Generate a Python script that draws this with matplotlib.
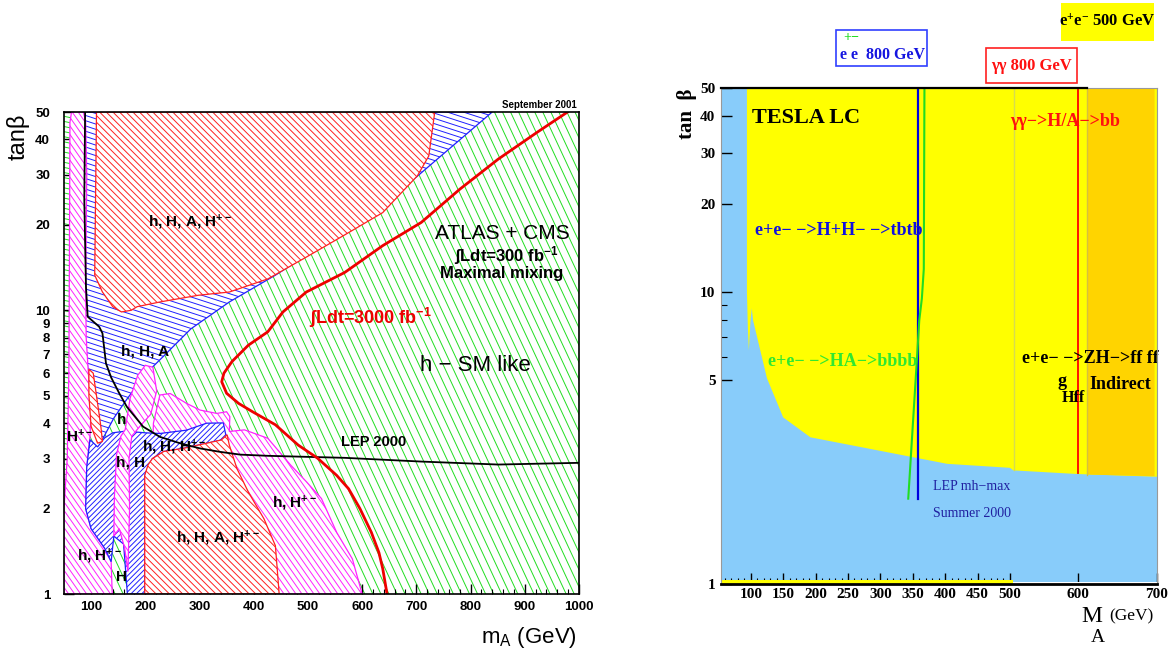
import numpy as np
import matplotlib
matplotlib.use("Agg")
import matplotlib.pyplot as plt
from matplotlib.patches import Polygon, Rectangle
from matplotlib.collections import LineCollection

plt.rcParams['font.family'] = ['Liberation Sans', 'DejaVu Sans']
plt.rcParams['mathtext.default'] = 'regular'
SERIF = ['Liberation Serif', 'DejaVu Serif']

# ---------------- left: ATLAS + CMS, (m_A [GeV], tan beta) ----------------
green_strip = [(50, 1), (50, 50), (62, 50), (62, 1)]
blue_top = [(85, 50), (840, 50), (701, 29.6), (638, 23.7), (567, 19.4), (497, 15.6),
            (440, 13.3), (355, 10.7), (284, 8.6), (234, 6.9), (199, 5.93), (163, 4.77),
            (142, 4.17), (119, 3.45), (105, 4.5), (95, 6), (88, 8), (85, 12)]
red_top = [(110, 50), (106.7, 13.3), (121, 11.6), (140, 10.3), (156, 9.87), (174, 10),
           (185, 10.3), (227, 10.7), (298, 11.3), (355, 11.6), (426, 12.9), (497, 15.4),
           (567, 18.4), (638, 22.1), (702, 29.8), (723, 35), (734, 50)]
magenta_left = [(61, 46), (64, 50), (86, 50), (90, 46), (92, 30), (90, 12), (91, 8),
                (95, 6), (100, 4.5), (98, 3.6), (92, 2.8), (90, 2.0), (100, 1.7),
                (125, 1.45), (137, 1.3), (139, 1), (50, 1), (50, 2), (56, 3), (59, 6),
                (60, 15)]
magenta_right = [(300, 1), (213, 3.0), (215, 4.0), (227, 5.03), (246, 5.09), (276, 4.7),
                 (301, 4.45), (332, 4.33), (350, 4.39), (356, 4.22), (355, 3.74),
                 (383, 3.79), (426, 3.54), (468, 2.85), (497, 2.49), (525, 2.17),
                 (553, 1.65), (582, 1.33), (600, 1.0)]
blue_low = [(98, 3.5), (112, 3.3), (125, 3.55), (140, 3.7), (163, 3.75), (200, 3.7),
            (227, 3.68), (276, 3.78), (313, 4.0), (344, 4.01), (349, 3.6), (340, 3.49),
            (298, 3.35), (270, 3.26), (234, 3.18), (213, 3.0), (199, 2.62), (199, 1.0),
            (167, 1.0), (160, 1.5), (142, 1.6), (137, 1.3), (125, 1.45), (100, 1.7),
            (90, 2.0), (92, 2.8)]
magenta_mid = [(142, 1.6), (152, 1.7), (162, 1.45), (168, 1.2), (171, 2.0), (170, 3.0),
               (175, 3.6), (190, 3.9), (210, 4.3), (221, 5.2), (214, 6.3), (200, 6.4),
               (186, 5.9), (172, 4.9), (163, 3.8), (155, 3.6), (147, 3.1), (143, 2.2)]
red_low = [(199, 1.0), (199, 2.62), (205, 2.85), (213, 3.0), (234, 3.18), (270, 3.26),
           (298, 3.35), (340, 3.49), (351, 3.64), (355, 3.35), (369, 2.77), (390, 2.29),
           (419, 1.84), (440, 1.48), (447, 1.0)]
red_strip = [(96, 6.2), (104, 6.0), (110, 5.0), (118, 3.9), (121, 3.45), (112, 3.4),
             (100, 3.9), (96, 5.0)]

lep_ma = [89, 87.5, 90.6, 93.7, 115, 121, 127.5, 137, 152, 166, 196, 227, 264, 301,
          338, 375, 426, 568, 709, 851, 1000]
lep_tb = [50, 24.5, 12.1, 9.5, 8.75, 8.3, 6.5, 5.8, 5.1, 4.57, 3.89, 3.58, 3.40, 3.26,
          3.17, 3.10, 3.07, 3.02, 2.93, 2.86, 2.90]
lum3000_ma = [979, 922, 851, 780, 709, 638, 568, 497, 454, 426, 390, 360, 345, 341, 350,
              372, 397, 440, 482, 518, 553, 575, 596, 617, 631, 638, 646]
lum3000_tb = [50, 42.3, 34.1, 26.7, 20.4, 16.9, 13.6, 11.6, 9.87, 8.4, 7.53, 6.6, 6.0,
              5.6, 5.1, 4.7, 4.4, 3.95, 3.35, 3.01, 2.62, 2.35, 2.0, 1.65, 1.4, 1.23, 1.0]

left_yticks = [1, 2, 3, 4, 5, 6, 7, 8, 9, 10, 20, 30, 40, 50]
left_xticks = list(range(100, 1001, 100))

# ---------------- right: TESLA LC ----------------
ma_knots = [54, 500, 600, 700]        # the x axis is stitched from three pieces
knot_pos = [0, 289, 357, 436]
yellow_edge = [(94, 50), (700, 50), (700, 2.33), (600, 2.38), (505, 2.45), (500, 2.5),
               (403, 2.58), (192, 3.18), (150, 3.72), (125, 5.06), (103.5, 8.0),
               (101.5, 8.8), (99.5, 8.0), (97, 6.3), (95.5, 7.5), (94, 10)]
gold_band = [(612, 50), (697, 50), (697, 2.34), (612, 2.37)]
hh_ma, hh_tb = [358, 358], [1.96, 50]
ha_ma = [343, 357, 360, 364, 367, 368]
ha_tb = [1.96, 6.2, 8, 9.5, 12, 50]
gg_ma, gg_tb = [600, 600], [2.4, 50]
right_xticks = [100, 150, 200, 250, 300, 350, 400, 450, 500, 600, 700]
right_xminor = [m for m in range(60, 500, 10) if m % 50]
right_yticks = [1, 5, 10, 20, 30, 40, 50]


def hatch_lines(ax, color, angle, step, clip=None, lw=0.7, z=1):
    fig = ax.figure
    pos = ax.get_position()
    w = pos.width * fig.get_figwidth() * fig.dpi
    h = pos.height * fig.get_figheight() * fig.dpi
    a = np.deg2rad(angle)
    d = np.array([np.cos(a), np.sin(a)])
    n = np.array([-np.sin(a), np.cos(a)])
    c = np.array([w / 2, h / 2])
    big = w + h
    segs = []
    for off in np.arange(-big, big, step):
        p0 = c + off * n - big * d
        p1 = c + off * n + big * d
        segs.append([(p0[0] / w, p0[1] / h), (p1[0] / w, p1[1] / h)])
    lc = LineCollection(segs, colors=color, linewidths=lw,
                        transform=ax.transAxes, zorder=z)
    ax.add_collection(lc, autolim=False)
    if clip is not None:
        lc.set_clip_path(clip)
    return lc


def region(ax, pts, color, angle, step, z, edge=True):
    poly = Polygon(pts, closed=True, facecolor='white',
                   edgecolor=color if edge else 'none', lw=0.9, zorder=z)
    ax.add_patch(poly)
    hatch_lines(ax, color, angle, step, clip=poly, z=z + 0.1)


GREEN, RED, BLUE, MAG = '#22dd22', '#ff2020', '#2020ff', '#ff22ff'

fig = plt.figure(figsize=(11.76, 6.55), dpi=100)

# ======== left panel ========
ax1 = fig.add_axes([0.0544, 0.0931, 0.4379, 0.7359])
ax1.set_yscale('log')
hatch_lines(ax1, GREEN, -65, 7.3, z=0.5)
region(ax1, green_strip, GREEN, -12, 5, 1, edge=False)
region(ax1, blue_top, BLUE, -18, 5, 2)
region(ax1, red_top, RED, -45, 4.7, 3)
region(ax1, magenta_left, MAG, -55, 4.9, 4)
region(ax1, magenta_right, MAG, -55, 4.9, 5)
region(ax1, blue_low, BLUE, 45, 3.8, 6)
region(ax1, magenta_mid, MAG, -55, 4.9, 7)
region(ax1, red_low, RED, -45, 4.7, 8)
region(ax1, red_strip, RED, -45, 4.7, 9)

ax1.plot(lep_ma, lep_tb, color='black', lw=1.3, zorder=10)
ax1.plot(lum3000_ma, lum3000_tb, color='#ee0000', lw=2, zorder=10)

ax1.set_xlim(50, 1000)
ax1.set_ylim(1, 50)
ax1.set_yticks(left_yticks)
ax1.set_yticklabels([str(v) for v in left_yticks])
ax1.yaxis.set_minor_locator(matplotlib.ticker.NullLocator())
ax1.set_xticks(left_xticks)
ax1.set_xticklabels([str(v) for v in left_xticks])
ax1.set_xticks([m for m in range(60, 1000, 20) if m % 100], minor=True)
ax1.tick_params(axis='both', which='major', direction='in', length=7, width=1,
                labelsize=9.5)
ax1.tick_params(axis='x', which='minor', direction='in', length=3.5, width=0.8)
ax1.tick_params(axis='y', pad=10)
ax1.tick_params(axis='x', pad=5)
for lab in ax1.get_xticklabels() + ax1.get_yticklabels():
    lab.set_fontweight('bold')
for sp in ax1.spines.values():
    sp.set_linewidth(1.2)
    sp.set_zorder(12)

tb = dict(fontweight='bold', fontsize=11, ha='center', va='center', zorder=11)
ax1.text(282, 20.5, 'h, H, A, H$^{+-}$', **tb)
ax1.text(199, 7.14, 'h, H, A', **tb)
ax1.text(156, 4.1, 'h', **tb)
ax1.text(78, 3.6, 'H$^{+-}$', **tb)
ax1.text(172, 2.9, 'h, H', **tb)
ax1.text(253, 3.3, 'h, H, H$^{+-}$', **tb)
ax1.text(335, 1.57, 'h, H, A, H$^{+-}$', **tb)
ax1.text(475, 2.08, 'h, H$^{+-}$', **tb)
ax1.text(115, 1.36, 'h, H$^{+-}$', **tb)
ax1.text(156, 1.15, 'H', **tb)
ax1.text(622, 3.44, 'LEP 2000', fontsize=10.5, fontweight='bold', ha='center',
         va='center', zorder=11)
ax1.text(858, 18.7, 'ATLAS + CMS', fontsize=15, ha='center', va='center', zorder=11)
ax1.text(865, 15.6, 'ʃLdt=300 fb$^{-1}$', fontsize=12, fontweight='bold',
         ha='center', va='center', zorder=11)
ax1.text(858, 13.5, 'Maximal mixing', fontsize=12, fontweight='bold',
         ha='center', va='center', zorder=11)
ax1.text(615, 9.4, 'ʃLdt=3000 fb$^{-1}$', fontsize=13, fontweight='bold',
         color='#ee0000', ha='center', va='center', zorder=11)
ax1.text(809, 6.4, 'h − SM like', fontsize=16, ha='center', va='center', zorder=11)
ax1.text(0.995, 1.004, 'September 2001', transform=ax1.transAxes, fontsize=7,
         fontweight='bold', ha='right', va='bottom')

fig.text(18 / 1176, 1 - 137 / 655, 'tanβ', rotation=90, fontsize=17,
         ha='center', va='center')
fig.text(577 / 1176, 1 - 637 / 655, 'm$_{A}$ (GeV)', fontsize=16,
         ha='right', va='center')

# ======== right panel ========
ax2 = fig.add_axes([0.6131, 0.1084, 0.3707, 0.7573])
ax2.set_yscale('log')


def fwd(x):
    return np.interp(x, ma_knots, knot_pos)


def inv(u):
    return np.interp(u, knot_pos, ma_knots)


ax2.set_xscale('function', functions=(fwd, inv))
ax2.set_facecolor('#88ccfa')
ax2.add_patch(Polygon(yellow_edge, closed=True, facecolor='#ffff00',
                      edgecolor='none', zorder=1))
ax2.add_patch(Polygon(gold_band, closed=True, facecolor='#ffd400',
                      edgecolor='none', zorder=1.5))
ax2.plot([506, 506], [2.45, 50], color='#d6dc50', lw=1, zorder=1.6)
ax2.plot([612, 612], [2.37, 50], color='#d6c040', lw=1, zorder=1.6)
ax2.fill_between([54, 505], 1.0, 1.035, color='#ffff00', zorder=2, lw=0)
ax2.fill_between([505, 700], 1.0, 1.018, color='white', zorder=2, lw=0)
ax2.plot(hh_ma, hh_tb, color='#0000e0', lw=1.6, zorder=3)
ax2.plot(ha_ma, ha_tb, color='#22dd22', lw=1.5, zorder=3)
ax2.plot(gg_ma, gg_tb, color='#ff0000', lw=1.3, zorder=3)
ax2.plot([54, 612], [50, 50], color='black', lw=1.6, zorder=6, clip_on=False)

ax2.set_xlim(54, 700)
ax2.set_ylim(1, 50)
ax2.set_xticks(right_xticks)
ax2.set_xticklabels([str(v) for v in right_xticks])
ax2.set_xticks(right_xminor, minor=True)
ax2.set_yticks(right_yticks)
ax2.set_yticklabels([str(v) for v in right_yticks])
ax2.set_yticks([6, 7, 8, 9], minor=True)
ax2.yaxis.set_minor_formatter(matplotlib.ticker.NullFormatter())
ax2.tick_params(axis='both', which='major', direction='in', length=8, width=1,
                labelsize=11)
ax2.tick_params(axis='both', which='minor', direction='in', length=4, width=0.8)
ax2.tick_params(axis='y', pad=4)
ax2.tick_params(axis='x', pad=3)
for lab in ax2.get_xticklabels() + ax2.get_yticklabels():
    lab.set_fontfamily(SERIF)
    lab.set_fontweight('bold')
for side in ('left', 'right', 'top'):
    ax2.spines[side].set_color('#999999')
    ax2.spines[side].set_linewidth(0.8)
ax2.spines['bottom'].set_linewidth(2)
for sp in ax2.spines.values():
    sp.set_zorder(5)

ts = dict(family=SERIF, fontweight='bold', va='center', ha='left', zorder=4)
ax2.text(102, 39.5, 'TESLA LC', fontsize=16, color='black', **ts)
ax2.text(106.6, 16.2, 'e+e− −>H+H− −>tbtb', fontsize=13, color='#1010e0', **ts)
ax2.text(127, 5.79, 'e+e− −>HA−>bbbb', fontsize=13, color='#30e830', **ts)
ax2.text(500, 38.4, 'γγ−>H/A−>bb', fontsize=13, color='#ff1010', **ts)
ax2.text(517.6, 5.92, 'e+e− −>ZH−>ff ff', fontsize=13, color='black', **ts)
ax2.text(570.6, 4.95, 'g', fontsize=13, color='black', **ts)
ax2.text(576.5, 4.32, 'Hff', fontsize=11.5, color='black', **ts)
ax2.text(615, 4.83, 'Indirect', fontsize=13, color='black', **ts)
ax2.text(381, 2.15, 'LEP mh−max', fontsize=10, color='#2020a0', family=SERIF,
         va='center', ha='left', zorder=4)
ax2.text(381, 1.75, 'Summer 2000', fontsize=10, color='#2020a0', family=SERIF,
         va='center', ha='left', zorder=4)

W, H = 1176, 655
fig.text(687 / W, 1 - 114 / H, 'tan  β', rotation=90, fontsize=15,
         family=SERIF, fontweight='bold', ha='center', va='center')
fig.text(1081 / W, 1 - 616 / H, 'M', fontsize=17, family=SERIF,
         ha='left', va='center')
fig.text(1091 / W, 1 - 637 / H, 'A', fontsize=14, family=SERIF,
         ha='left', va='center')
fig.text(1153 / W, 1 - 616 / H, '(GeV)', fontsize=12.5, family=SERIF,
         ha='right', va='center')

# collider boxes above the panel
fig.patches.append(Rectangle((836 / W, 1 - 66 / H), 91 / W, 36 / H, fill=False,
                             edgecolor='#3040ff', lw=1.2, transform=fig.transFigure))
fig.text(840 / W, 1 - 59 / H, 'e e  800 GeV', fontsize=11.5, color='#1515e0',
         family=SERIF, fontweight='bold', va='baseline')
fig.text(843 / W, 1 - 38 / H, '+−', fontsize=10, color='#22dd22',
         family=SERIF, fontweight='bold', va='center')
fig.patches.append(Rectangle((986 / W, 1 - 83 / H), 91 / W, 35 / H, fill=False,
                             edgecolor='#ff2020', lw=1.2, transform=fig.transFigure))
fig.text(1031.5 / W, 1 - 66 / H, 'γγ 800 GeV', fontsize=12, color='#ff1010',
         family=SERIF, fontweight='bold', ha='center', va='center')
fig.patches.append(Rectangle((1061 / W, 1 - 41 / H), 93 / W, 38 / H, facecolor='#ffff00',
                             edgecolor='none', transform=fig.transFigure))
fig.text(1107.5 / W, 1 - 22 / H, 'e$^{+}$e$^{-}$ 500 GeV', fontsize=12, color='black',
         family=SERIF, fontweight='bold', ha='center', va='center')

fig.savefig('out.png', dpi=100)
